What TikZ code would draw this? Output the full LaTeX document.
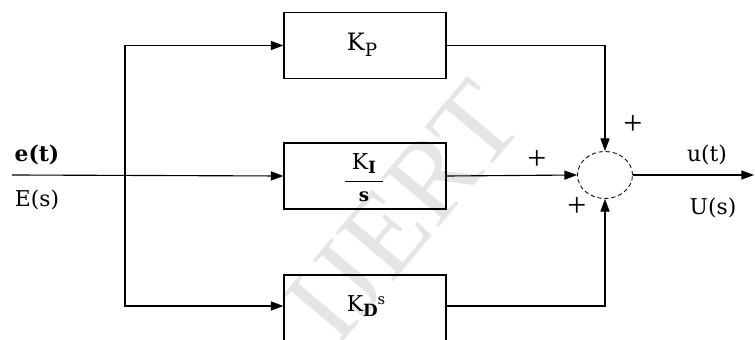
\documentclass[tikz,border=0pt]{standalone}
\usepackage{amsmath}
\usepackage{fontspec}
\setmainfont{DejaVu Serif}
\newfontfamily\lsfont{Liberation Serif}
\usetikzlibrary{arrows.meta,shapes.geometric}
\begin{document}
\begin{tikzpicture}[x=0.025cm,y=-0.025cm,
  blk/.style={draw,line width=0.8pt,minimum width=4.05cm,minimum height=1.65cm,inner sep=0pt},
  wire/.style={line width=0.8pt},
  arr/.style={wire,-{Triangle[length=9pt,width=6.5pt]}},
  lbl/.style={font=\fontsize{15.5}{18}\selectfont,inner sep=0pt},
  pls/.style={font=\lsfont\fontsize{24}{24}\selectfont,inner sep=0pt}]
\clip (0,0) rectangle (755,340);
\node[font=\lsfont\fontsize{82}{82}\selectfont, text=gray!20, rotate=50, inner sep=0pt] (wm) at (404,212) {IJERT};
% blocks
\node[blk] (KP) at (365,45.5) {};
\node[lbl,font=\fontsize{17}{18}\selectfont] (KPt) at (362,45) {K\raisebox{-0.45ex}{\fontsize{13}{13}\selectfont P}};
\node[blk] (KI) at (365,176) {};
\node[lbl] (KIn) at (364,164) {K\raisebox{-0.35ex}{\fontsize{12}{12}\selectfont\bfseries I}};
\node[lbl,font=\bfseries\fontsize{13}{13}\selectfont] (KId) at (364,197) {s};
\node[blk,minimum height=2cm] (KDbox) at (365,315) {};
\node[lbl] (KD) at (366,306) {K\raisebox{-0.5ex}{\fontsize{12}{12}\selectfont\bfseries D}\raisebox{0.6ex}{\fontsize{10.5}{10.5}\selectfont s}};
\node[draw,densely dashed,line width=0.6pt,ellipse,minimum width=1.375cm,minimum height=1.175cm,inner sep=0pt] (sum) at (605,175) {};
% coordinates
\coordinate (in) at (12,175);
\coordinate (split) at (125,175);
\coordinate (dlev) at (0,306);
\coordinate (out) at (754,175);
\coordinate (fl) at (345,181);
\coordinate (fr) at (383,181);
% connectors
\draw[line width=0.7pt] (fl) -- (fr);
\draw[arr] (in) -- (KI.west);
\draw[arr] (split) |- (KP.west);
\draw[arr] (split) |- (KDbox.west |- dlev);
\draw[arr] (KP.east) -| (sum.north);
\draw[arr] (KI.east) -- (sum.west);
\draw[arr] (KDbox.east |- dlev) -| (sum.south);
\draw[arr] (sum.east) -- (out);
% labels
\node[lbl,font=\bfseries\fontsize{15.5}{18}\selectfont] (et) at (37,155) {e(t)};
\node[lbl] (Es) at (37,200) {E(s)};
\node[lbl] (ut) at (707,155) {u(t)};
\node[lbl] (Us) at (713,208) {U(s)};
\node[pls] (p1) at (633,125) {+};
\node[pls] (p2) at (537,160) {+};
\node[pls] (p3) at (577,207) {+};
\end{tikzpicture}
\end{document}
